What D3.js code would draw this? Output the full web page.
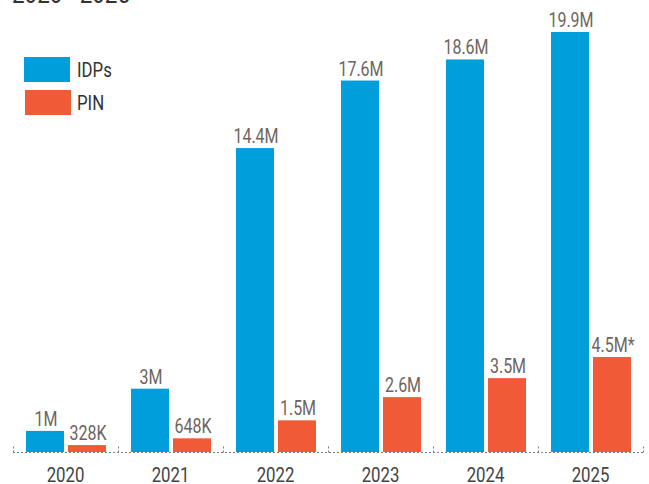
<!DOCTYPE html>
<html>
<head>
<meta charset="utf-8">
<script src="https://cdn.jsdelivr.net/npm/d3@7"></script>
<style>
  html, body { margin: 0; padding: 0; background: #fff; }
  svg { display: block; }
  text { font-family: Roboto, "Noto Sans", sans-serif; }
</style>
</head>
<body>
<svg id="chart" width="649" height="484"></svg>
<script>
// Internally displaced people (IDPs) and people in need (PIN), in millions
const years = ["2020", "2021", "2022", "2023", "2024", "2025"];
const idps = [1, 3, 14.4, 17.6, 18.6, 19.9];
const pin = [0.328, 0.648, 1.5, 2.6, 3.5, 4.5];
const idpLabels = ["1M", "3M", "14.4M", "17.6M", "18.6M", "19.9M"];
const pinLabels = ["328K", "648K", "1.5M", "2.6M", "3.5M", "4.5M*"];
const seriesNames = ["IDPs", "PIN"];
const titleText = "2020 - 2025";

const colors = { IDPs: "#009fdb", PIN: "#f15a36" };
const labelColor = "#6d6460";
const squeeze = 0.8; // narrow the Roboto glyphs to a condensed look

const svg = d3.select("#chart");

const x = d3.scaleBand().domain(years).range([13, 643]).padding(0);
// positions of the two bars inside one year band (band-relative)
const xSub = d3.scaleBand().domain(seriesNames).range([13, 93])
  .paddingInner(4 / 42).paddingOuter(0);
const y = d3.scaleLinear().domain([0, 19.9]).range([452, 32]);

const rows = years.map((yr, i) => ({
  year: yr,
  bars: [
    { key: "IDPs", value: idps[i], label: idpLabels[i] },
    { key: "PIN", value: pin[i], label: pinLabels[i] }
  ]
}));

// condensed text helper
function condensed(sel, cx, cy, anchor) {
  sel.attr("transform", `translate(${cx},${cy}) scale(${squeeze},1)`)
     .attr("text-anchor", anchor);
  return sel;
}

// title (mostly above the visible area)
condensed(svg.append("text"), 12, 3, "start")
  .attr("font-size", 28)
  .attr("fill", "#333")
  .text(titleText);

// baseline and group separators
const base = y(0) + 0.5;
svg.append("line")
  .attr("x1", x.range()[0]).attr("x2", x.range()[1])
  .attr("y1", base).attr("y2", base)
  .attr("stroke", "#7a7a7a").attr("stroke-width", 1)
  .attr("stroke-dasharray", "2,2");

const edges = years.map(d => x(d)).concat([x.range()[1]]);
svg.selectAll("line.sep").data(edges).join("line")
  .attr("class", "sep")
  .attr("x1", d => d + 0.5).attr("x2", d => d + 0.5)
  .attr("y1", base - 6).attr("y2", base)
  .attr("stroke", "#7a7a7a").attr("stroke-width", 1)
  .attr("stroke-dasharray", "2,2");

// bars
const groups = svg.selectAll("g.year").data(rows).join("g")
  .attr("class", "year")
  .attr("transform", d => `translate(${x(d.year)},0)`);

groups.selectAll("rect").data(d => d.bars).join("rect")
  .attr("x", d => xSub(d.key))
  .attr("width", xSub.bandwidth())
  .attr("y", d => y(d.value))
  .attr("height", d => y(0) - y(d.value))
  .attr("fill", d => colors[d.key]);

groups.selectAll("text.val").data(d => d.bars).join("text")
  .attr("class", "val")
  .each(function (d) {
    condensed(d3.select(this), xSub(d.key) + xSub.bandwidth() / 2 + 1, y(d.value) - 5, "middle");
  })
  .attr("font-size", 20)
  .attr("fill", labelColor)
  .text(d => d.label);

// x axis labels
const axis = d3.axisBottom(x).tickSize(0).tickPadding(0);
const axisG = svg.append("g").attr("transform", `translate(0,${y(0)})`).call(axis);
axisG.select(".domain").remove();
axisG.selectAll(".tick text")
  .attr("y", 0).attr("dy", null)
  .attr("transform", `translate(0,29.5) scale(${squeeze},1)`)
  .attr("font-size", 21)
  .attr("font-family", "Roboto, sans-serif")
  .attr("fill", "#444");

// legend
const legend = svg.append("g");
const legendRows = legend.selectAll("g").data(seriesNames).join("g")
  .attr("transform", (d, i) => `translate(${24 + i},${57 + i * 33})`);
legendRows.append("rect")
  .attr("width", 46).attr("height", 25)
  .attr("fill", d => colors[d]);
legendRows.append("text")
  .each(function (d, i) { condensed(d3.select(this), 53 - i, 20, "start"); })
  .attr("font-size", 21)
  .attr("fill", "#333")
  .text(d => d);
</script>
</body>
</html>
